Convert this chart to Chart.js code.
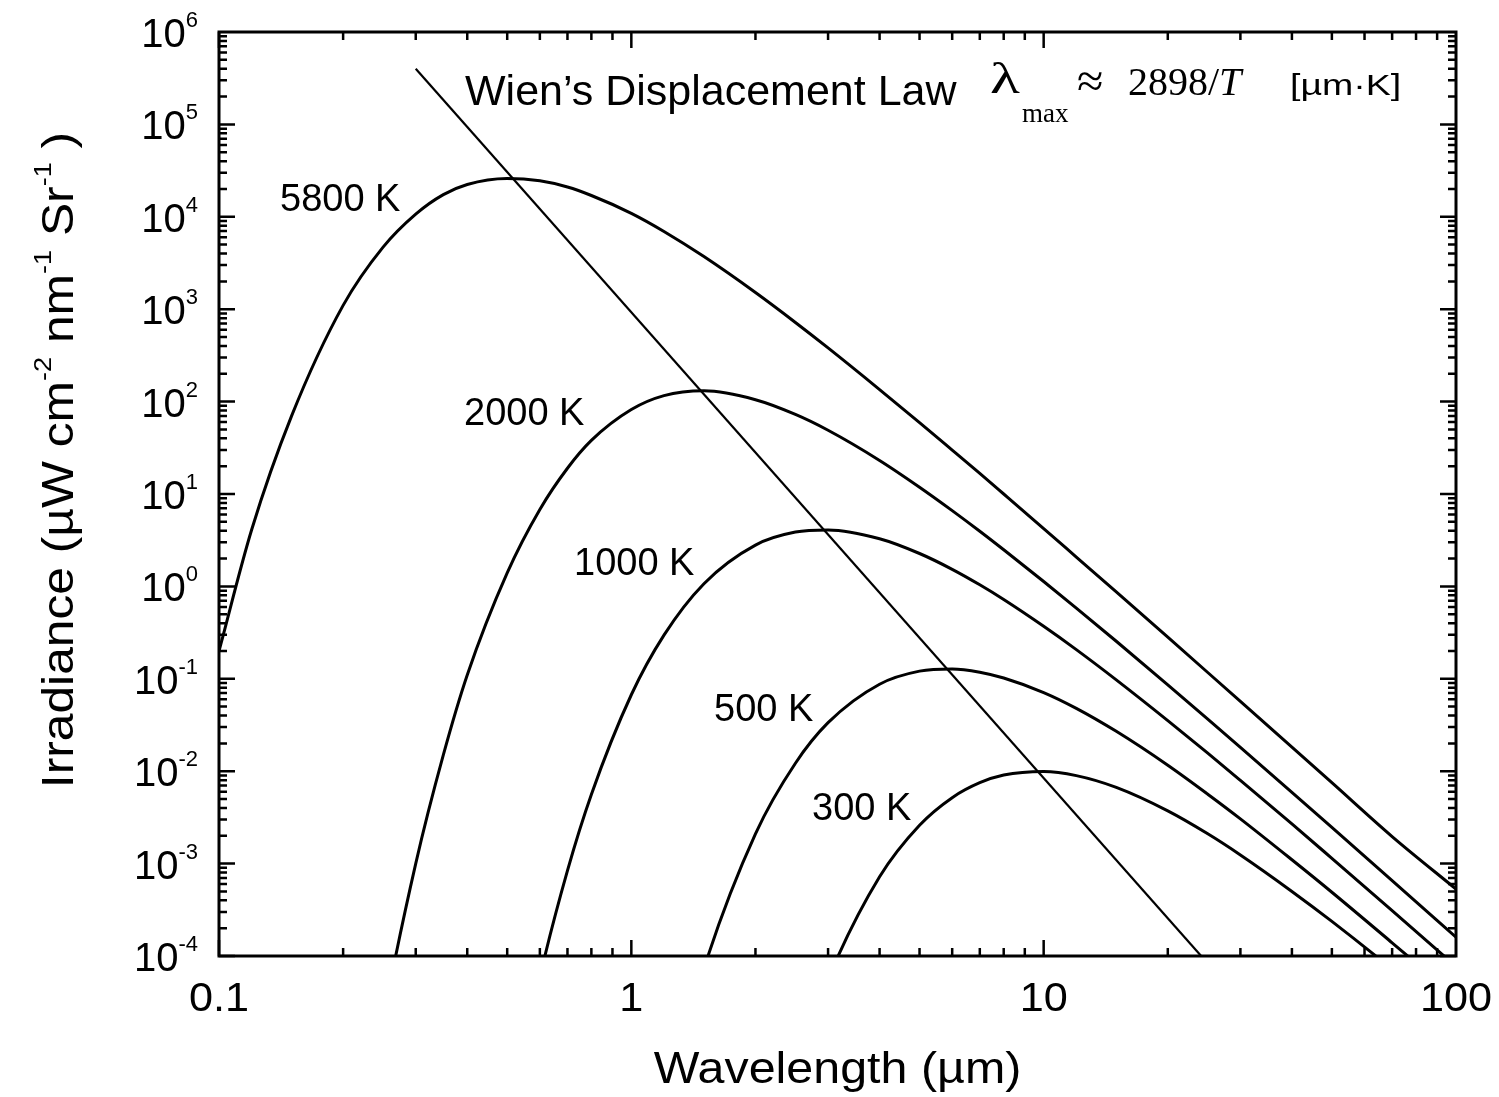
<!DOCTYPE html>
<html>
<head>
<meta charset="utf-8">
<script src="https://cdn.jsdelivr.net/npm/chart.js@4.4.0/dist/chart.umd.min.js"></script>
<style>
  html, body { margin: 0; padding: 0; background: #fff; }
</style>
</head>
<body>
<canvas id="planck-chart" width="1499" height="1097"></canvas>
<script>
// wavelength grid (µm)
const wavelength = [0.1, 0.12, 0.15, 0.2, 0.25, 0.3, 0.35, 0.4, 0.5, 0.6, 0.7, 0.8, 1, 1.2, 1.5, 2, 2.5, 3, 4, 5, 6, 7, 8, 10, 12, 15, 20, 25, 30, 40, 50, 70, 100];

// irradiance (µW cm-2 nm-1 Sr-1), null = not on the plot
const irr5800 = [0.2, 4.1, 70, 1100, 4700, 10700, 17400, 22400, 26000, 24500, 21000, 17000, 10900, 6940, 3710, 1515, 719, 381, 135, 59.3, 29.9, 16.7, 10.0, 4.23, 2.08, 0.872, 0.282, 0.117, 0.0569, 0.0182, 0.0075, 0.00196, 0.00053];
const irr2000 = [null, null, null, 5e-8, 2.0e-5, 1.0e-3, 0.015, 0.11, 1.4, 6.8, 19, 38, 82, 116, 130.7, 104.9, 72.7, 49.0, 23.1, 11.85, 6.61, 3.95, 2.49, 1.131, 0.583, 0.255, 0.086, 0.0366, 0.0181, 0.0059, 0.00246, 6.55e-4, 1.6e-4];
const irr1000 = [null, null, null, null, null, null, null, null, 1.2e-6, 5.9e-5, 8.4e-4, 5.6e-3, 0.0672, 0.297, 1.07, 2.80, 3.87, 4.08, 3.28, 2.27, 1.53, 1.04, 0.721, 0.370, 0.207, 0.0974, 0.0353, 0.0157, 0.00796, 0.00269, 0.00114, 3.1e-4, 7.7e-5];
const irr500 = [null, null, null, null, null, null, null, null, null, null, null, null, null, 1.8e-6, 7.3e-5, 2.1e-3, 0.0122, 0.0335, 0.0874, 0.121, 0.128, 0.118, 0.102, 0.0710, 0.0479, 0.0270, 0.0116, 0.00564, 0.00305, 0.00110, 4.9e-4, 1.39e-4, 3.6e-5];
const irr300 = [null, null, null, null, null, null, null, null, null, null, null, null, null, null, null, null, 5.7e-6, 5.6e-5, 7.2e-4, 2.6e-3, 5.17e-3, 7.5e-3, 9.08e-3, 9.93e-3, 8.96e-3, 6.68e-3, 3.72e-3, 2.10e-3, 1.24e-3, 5.0e-4, 2.37e-4, 7.2e-5, 1.9e-5];

// Wien's displacement line (peak locus)
const wienWavelength = [0.3, 24.1];
const wienIrradiance = [4.0e5, 1.0e-4];

const curveNames = ["5800 K", "2000 K", "1000 K", "500 K", "300 K"];
const xTickLabels = ["0.1", "1", "10", "100"];
const yTickExponents = [-4, -3, -2, -1, 0, 1, 2, 3, 4, 5, 6];

const toPoints = (xs, ys) => xs.map((x, i) => ({ x: x, y: ys[i] })).filter(p => p.y !== null);

const curve = (values) => ({
  data: toPoints(wavelength, values),
  showLine: true,
  borderColor: "#000",
  borderWidth: 3,
  pointRadius: 0,
  cubicInterpolationMode: "monotone",
  fill: false
});

const SANS = "'Liberation Sans', Arial, sans-serif";
const SERIF = "'Liberation Serif', 'Times New Roman', serif";

// draws a run of text pieces (optional superscript shift) on one baseline,
// sx stretches the run along its direction
function drawParts(ctx, parts, x, y, align, sx) {
  sx = sx || 1;
  let w = 0;
  parts.forEach(p => { ctx.font = p.font; p.w = ctx.measureText(p.t).width; w += p.w; });
  let cx = align === "center" ? -w / 2 : align === "right" ? -w : 0;
  ctx.save();
  ctx.translate(x, y);
  ctx.scale(sx, 1);
  parts.forEach(p => {
    ctx.font = p.font;
    ctx.fillText(p.t, cx, p.dy || 0);
    cx += p.w;
  });
  ctx.restore();
}

const frameAndText = {
  id: "frameAndText",
  afterDraw(chart) {
    const { ctx, chartArea: a, scales: { x, y } } = chart;
    ctx.save();
    ctx.strokeStyle = "#000";
    ctx.fillStyle = "#000";
    ctx.lineCap = "butt";

    // inward ticks on all four sides
    ctx.lineWidth = 2.5;
    ctx.beginPath();
    for (let d = -1; d <= 1; d++) {
      for (let k = 1; k <= 9; k++) {
        const px = x.getPixelForValue(k * Math.pow(10, d));
        const len = k === 1 ? 16 : 8;
        ctx.moveTo(px, a.bottom); ctx.lineTo(px, a.bottom - len);
        ctx.moveTo(px, a.top); ctx.lineTo(px, a.top + len);
      }
    }
    for (let d = -4; d <= 5; d++) {
      for (let k = 1; k <= 9; k++) {
        const py = y.getPixelForValue(k * Math.pow(10, d));
        const len = k === 1 ? 16 : 8;
        ctx.moveTo(a.left, py); ctx.lineTo(a.left + len, py);
        ctx.moveTo(a.right, py); ctx.lineTo(a.right - len, py);
      }
    }
    ctx.stroke();

    // frame
    ctx.lineWidth = 3;
    ctx.strokeRect(a.left, a.top, a.right - a.left, a.bottom - a.top);

    ctx.textBaseline = "alphabetic";
    ctx.textAlign = "left";

    // x tick labels
    xTickLabels.forEach(t => {
      const px = x.getPixelForValue(parseFloat(t));
      drawParts(ctx, [{ t: t, font: "40px " + SANS }], px, a.bottom + 55, "center", 1.08);
    });

    // y tick labels 10^n
    yTickExponents.forEach(e => {
      const py = y.getPixelForValue(Math.pow(10, e));
      drawParts(ctx, [
        { t: "10", font: "40px " + SANS },
        { t: String(e), font: "22px " + SANS, dy: -20 }
      ], a.left - 21, py + 15, "right");
    });

    // axis titles
    drawParts(ctx, [{ t: "Wavelength (µm)", font: "44px " + SANS }], (a.left + a.right) / 2, a.bottom + 127, "center", 1.1);

    ctx.save();
    ctx.translate(73, 460);
    ctx.rotate(-Math.PI / 2);
    const tf = "44px " + SANS, sf = "24px " + SANS;
    drawParts(ctx, [
      { t: "Irradiance (µW cm", font: tf },
      { t: "-2", font: sf, dy: -22 },
      { t: " nm", font: tf },
      { t: "-1", font: sf, dy: -22 },
      { t: " Sr", font: tf },
      { t: "-1", font: sf, dy: -22 },
      { t: " )", font: tf }
    ], 0, 0, "center", 1.13);
    ctx.restore();

    // curve labels
    const labelSpots = [[280, 211], [464, 425], [574, 575], [714, 721], [812, 820]];
    curveNames.forEach((n, i) => {
      drawParts(ctx, [{ t: n, font: "38px " + SANS }], labelSpots[i][0], labelSpots[i][1], "left");
    });

    // Wien's law annotation
    drawParts(ctx, [{ t: "Wien\u2019s Displacement Law", font: "43px " + SANS }], 465, 105, "left");
    drawParts(ctx, [{ t: "\u03bb", font: "44px " + SERIF }], 990, 93, "left", 1.4);
    drawParts(ctx, [{ t: "max", font: "27px " + SERIF }], 1022, 122, "left");
    drawParts(ctx, [{ t: "\u2248", font: "48px " + SERIF }], 1077, 97, "left");
    drawParts(ctx, [
      { t: "2898/", font: "40px " + SERIF },
      { t: "T", font: "italic 40px " + SERIF }
    ], 1128, 95, "left");
    drawParts(ctx, [{ t: "[µm\u00b7K]", font: "30px " + SANS }], 1290, 95, "left", 1.25);

    ctx.restore();
  }
};

new Chart("planck-chart", {
  type: "scatter",
  data: {
    datasets: [
      curve(irr5800),
      curve(irr2000),
      curve(irr1000),
      curve(irr500),
      curve(irr300),
      {
        data: toPoints(wienWavelength, wienIrradiance),
        showLine: true,
        borderColor: "#000",
        borderWidth: 2.2,
        pointRadius: 0,
        fill: false
      }
    ]
  },
  options: {
    responsive: false,
    animation: false,
    layout: { padding: { left: 219, right: 43, top: 32, bottom: 141 } },
    plugins: {
      legend: { display: false },
      tooltip: { enabled: false }
    },
    elements: { line: { capBezierPoints: false } },
    scales: {
      x: { type: "logarithmic", min: 0.1, max: 100, display: false },
      y: { type: "logarithmic", min: 1e-4, max: 1e6, display: false }
    }
  },
  plugins: [frameAndText]
});
</script>
</body>
</html>
